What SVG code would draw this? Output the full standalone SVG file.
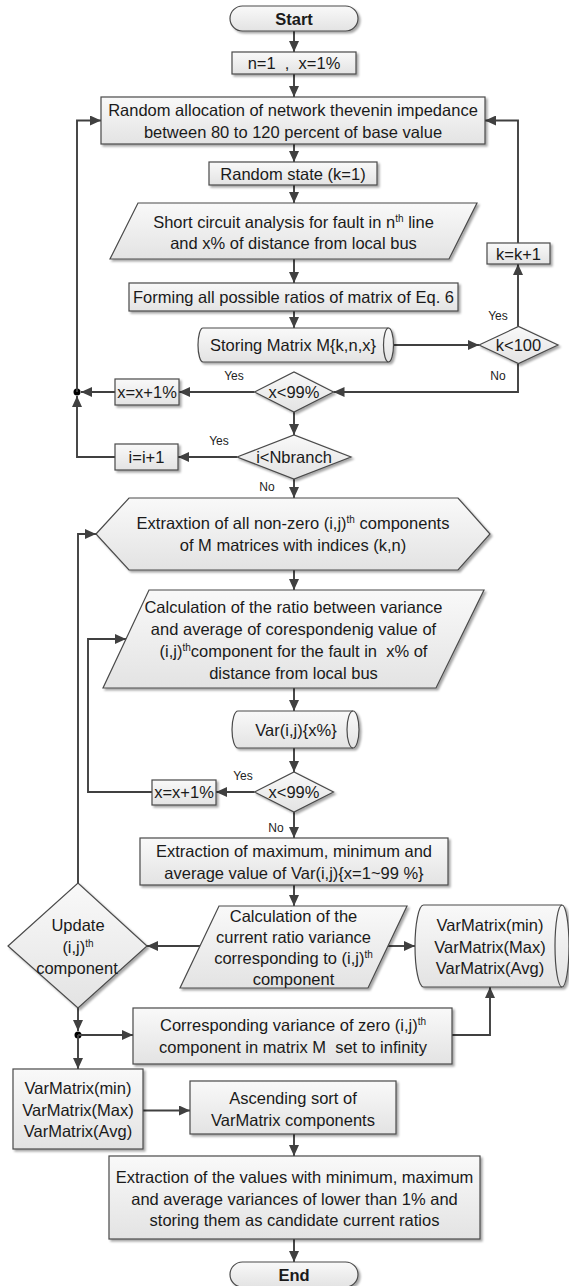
<svg xmlns="http://www.w3.org/2000/svg" width="569" height="1286" viewBox="0 0 569 1286">
<defs>
<linearGradient id="g" x1="0" y1="0" x2="0" y2="1">
<stop offset="0" stop-color="#f9f9f9"/>
<stop offset="1" stop-color="#e3e3e3"/>
</linearGradient>
<filter id="sh" x="-10%" y="-10%" width="130%" height="140%">
<feDropShadow dx="2" dy="2" stdDeviation="1.2" flood-color="#000" flood-opacity="0.35"/>
</filter>
<marker id="ah" viewBox="0 0 11 10" refX="11" refY="5" markerWidth="11" markerHeight="10" markerUnits="userSpaceOnUse" orient="auto">
<path d="M0,0 L11,5 L0,10 z" fill="#404040"/>
</marker>
<style>
.n{fill:url(#g);stroke:#4a4a4a;stroke-width:1.2;filter:url(#sh)}
.e{fill:none;stroke:#4a4a4a;stroke-width:1.2}
.t{font-family:"Liberation Sans",Arial,sans-serif;font-size:16.5px;fill:#1a1a1a;text-anchor:middle}
.b{font-weight:bold}
.l{font-family:"Liberation Sans",Arial,sans-serif;font-size:12px;fill:#222;text-anchor:middle}
.c{fill:none;stroke:#404040;stroke-width:1.9}
.a{marker-end:url(#ah)}
.d{fill:#000}
</style>
</defs>
<rect width="569" height="1286" fill="#fff"/>

<g id="connectors">
<line class="c a" x1="294" y1="31" x2="294" y2="52"/>
<line class="c a" x1="294" y1="74" x2="294" y2="97"/>
<line class="c a" x1="294" y1="144" x2="294" y2="162"/>
<line class="c a" x1="294" y1="185" x2="294" y2="203"/>
<line class="c a" x1="294" y1="259" x2="294" y2="283"/>
<line class="c a" x1="294" y1="311" x2="294" y2="328"/>
<line class="c a" x1="393" y1="345" x2="479" y2="345"/>
<line class="c a" x1="518" y1="326.5" x2="518" y2="264"/>
<polyline class="c a" points="518,243 518,120.5 485,120.5"/>
<polyline class="c a" points="518,363.5 518,392 333.5,392"/>
<line class="c a" x1="254.5" y1="392" x2="179" y2="392"/>
<line class="c a" x1="115" y1="392" x2="81" y2="392"/>
<circle class="d" cx="77" cy="392" r="3.5"/>
<polyline class="c a" points="115,457 77,457 77,396"/>
<polyline class="c a" points="77,392 77,120.5 101,120.5"/>
<line class="c a" x1="294" y1="412" x2="294" y2="435"/>
<line class="c a" x1="237" y1="457" x2="178" y2="457"/>
<line class="c a" x1="294" y1="479" x2="294" y2="498"/>
<polyline class="c a" points="78,883 78,534 96,534"/>
<line class="c a" x1="294" y1="570" x2="294" y2="590"/>
<line class="c a" x1="294" y1="688" x2="294" y2="711"/>
<line class="c a" x1="294" y1="748" x2="294" y2="772"/>
<line class="c a" x1="254.5" y1="792" x2="216" y2="792"/>
<polyline class="c a" points="152,792 88,792 88,639 126,639"/>
<line class="c a" x1="294" y1="812" x2="294" y2="838"/>
<line class="c a" x1="294" y1="885" x2="294" y2="906"/>
<line class="c a" x1="200" y1="946" x2="147" y2="946"/>
<line class="c a" x1="388" y1="946" x2="415" y2="946"/>
<line class="c a" x1="78" y1="1008" x2="78" y2="1031"/>
<circle class="d" cx="78" cy="1035" r="3.5"/>
<line class="c a" x1="78" y1="1035" x2="133" y2="1035"/>
<line class="c a" x1="78" y1="1035" x2="78" y2="1069"/>
<polyline class="c a" points="452,1035 490,1035 490,987"/>
<line class="c a" x1="143" y1="1110.5" x2="190" y2="1110.5"/>
<line class="c a" x1="294" y1="1134" x2="294" y2="1156"/>
<line class="c a" x1="294" y1="1239" x2="294" y2="1262"/>
<text class="l" x="498" y="320">Yes</text>
<text class="l" x="498" y="380">No</text>
<text class="l" x="234" y="380">Yes</text>
<text class="l" x="219" y="445">Yes</text>
<text class="l" x="267" y="491">No</text>
<text class="l" x="243" y="780">Yes</text>
<text class="l" x="276" y="832">No</text>
</g>

<g id="start">
<rect class="n" x="230" y="6" width="128" height="25" rx="12.5"/>
<text class="t b" x="294" y="24.5">Start</text>
</g>
<g id="init">
<rect class="n" x="232" y="52" width="124" height="22"/>
<text class="t" x="294" y="69" xml:space="preserve">n=1  ,  x=1%</text>
</g>
<g id="random-allocation">
<rect class="n" x="101" y="97" width="384" height="47"/>
<text class="t" x="293" y="115.5">Random allocation of network thevenin impedance</text>
<text class="t" x="293" y="137.5">between 80 to 120 percent of base value</text>
</g>
<g id="random-state">
<rect class="n" x="209" y="162" width="168" height="23"/>
<text class="t" x="293" y="179.5">Random state (k=1)</text>
</g>
<g id="short-circuit">
<polygon class="n" points="138,203 477,203 449,259 110,259"/>
<text class="t" x="293.5" y="227.5">Short circuit analysis for fault in n<tspan dy="-6" font-size="10">th</tspan><tspan dy="6"> line</tspan></text>
<text class="t" x="293.5" y="248.5">and x% of distance from local bus</text>
</g>
<g id="forming">
<rect class="n" x="129" y="283" width="329" height="28"/>
<text class="t" x="293.5" y="303">Forming all possible ratios of matrix of Eq. 6</text>
</g>
<g id="storing">
<path class="n" d="M203,328 H388.5 A5,17 0 0 1 388.5,362 H203 A5,17 0 0 1 203,328 Z"/>
<path class="e" d="M388.5,328 A5,17 0 0 0 388.5,362"/>
<text class="t" x="293" y="351">Storing Matrix M{k,n,x}</text>
</g>
<g id="k-less-100">
<polygon class="n" points="479,345 518.5,326.5 558,345 518.5,363.5"/>
<text class="t" x="518.5" y="351">k&lt;100</text>
</g>
<g id="k-inc">
<rect class="n" x="487" y="243" width="63" height="21"/>
<text class="t" x="518.5" y="259.5">k=k+1</text>
</g>
<g id="x-less-99-a">
<polygon class="n" points="254.5,392 294,372 333.5,392 294,412"/>
<text class="t" x="294" y="398">x&lt;99%</text>
</g>
<g id="x-inc-a">
<rect class="n" x="115" y="379" width="64" height="26"/>
<text class="t" x="147" y="398">x=x+1%</text>
</g>
<g id="i-less-nbranch">
<polygon class="n" points="237,457 294,435 351,457 294,479"/>
<text class="t" x="294" y="463">i&lt;Nbranch</text>
</g>
<g id="i-inc">
<rect class="n" x="115" y="444" width="63" height="26"/>
<text class="t" x="146.5" y="463">i=i+1</text>
</g>
<g id="extraction-nonzero">
<polygon class="n" points="96,534 129,498 458,498 490,534 458,570 129,570"/>
<text class="t" x="293" y="529">Extraxtion of all non-zero (i,j)<tspan dy="-6" font-size="10">th</tspan><tspan dy="6"> components</tspan></text>
<text class="t" x="293" y="551">of M matrices with indices (k,n)</text>
</g>
<g id="calc-ratio">
<polygon class="n" points="149,590 484,590 436,688 103,688"/>
<text class="t" x="293.5" y="613">Calculation of the ratio between variance</text>
<text class="t" x="293.5" y="635">and average of corespondenig value of</text>
<text class="t" x="293.5" y="657" xml:space="preserve">(i,j)<tspan dy="-6" font-size="10">th</tspan><tspan dy="6">component for the fault in  x% of</tspan></text>
<text class="t" x="293.5" y="679">distance from local bus</text>
</g>
<g id="var-store">
<path class="n" d="M238,711 H353 A6,18.5 0 0 1 353,748 H238 A6,18.5 0 0 1 238,711 Z"/>
<path class="e" d="M353,711 A6,18.5 0 0 0 353,748"/>
<text class="t" x="296" y="735.5">Var(i,j){x%}</text>
</g>
<g id="x-less-99-b">
<polygon class="n" points="254.5,792 294,772 333.5,792 294,812"/>
<text class="t" x="294" y="798">x&lt;99%</text>
</g>
<g id="x-inc-b">
<rect class="n" x="152" y="780" width="64" height="25"/>
<text class="t" x="184" y="798">x=x+1%</text>
</g>
<g id="extraction-maxmin">
<rect class="n" x="140" y="838" width="308" height="47"/>
<text class="t" x="294" y="856.5">Extraction of maximum, minimum and</text>
<text class="t" x="294" y="878.5">average value of Var(i,j){x=1~99 %}</text>
</g>
<g id="calc-current">
<polygon class="n" points="219,906 407,906 368,988 180,988"/>
<text class="t" x="293.5" y="921.5">Calculation of the</text>
<text class="t" x="293.5" y="942.5">current ratio variance</text>
<text class="t" x="293.5" y="963.5">corresponding to (i,j)<tspan dy="-6" font-size="10">th</tspan></text>
<text class="t" x="293.5" y="984.5">component</text>
</g>
<g id="update">
<polygon class="n" points="8,946 78,883 147,946 78,1008"/>
<text class="t" x="78" y="931">Update</text>
<text class="t" x="78" y="952.7">(i,j)<tspan dy="-6" font-size="10">th</tspan></text>
<text class="t" x="77" y="974.3">component</text>
</g>
<g id="varmatrix-store">
<path class="n" d="M423.5,905 H562 A7,41 0 0 1 562,987 H423.5 A8.5,41 0 0 1 423.5,905 Z"/>
<path class="e" d="M562,905 A7,41 0 0 0 562,987"/>
<text class="t" x="490" y="931">VarMatrix(min)</text>
<text class="t" x="490" y="952.7">VarMatrix(Max)</text>
<text class="t" x="490" y="974.3">VarMatrix(Avg)</text>
</g>
<g id="corresponding">
<rect class="n" x="133" y="1008" width="319" height="56"/>
<text class="t" x="293" y="1031">Corresponding variance of zero (i,j)<tspan dy="-6" font-size="10">th</tspan></text>
<text class="t" x="293" y="1053" xml:space="preserve">component in matrix M  set to infinity</text>
</g>
<g id="varmatrix-box">
<rect class="n" x="13" y="1069" width="130" height="80"/>
<text class="t" x="78" y="1094">VarMatrix(min)</text>
<text class="t" x="78" y="1115.5">VarMatrix(Max)</text>
<text class="t" x="78" y="1137">VarMatrix(Avg)</text>
</g>
<g id="ascending">
<rect class="n" x="190" y="1081" width="206" height="53"/>
<text class="t" x="293" y="1104">Ascending sort of</text>
<text class="t" x="293" y="1125.5">VarMatrix components</text>
</g>
<g id="final-extraction">
<rect class="n" x="109" y="1156" width="371" height="83"/>
<text class="t" x="294.5" y="1183">Extraction of the values with minimum, maximum</text>
<text class="t" x="294.5" y="1204.5">and average variances of lower than 1% and</text>
<text class="t" x="294.5" y="1225.5">storing them as candidate current ratios</text>
</g>
<g id="end">
<rect class="n" x="230" y="1262" width="128" height="25" rx="12.5"/>
<text class="t b" x="294" y="1280.5">End</text>
</g>
</svg>
